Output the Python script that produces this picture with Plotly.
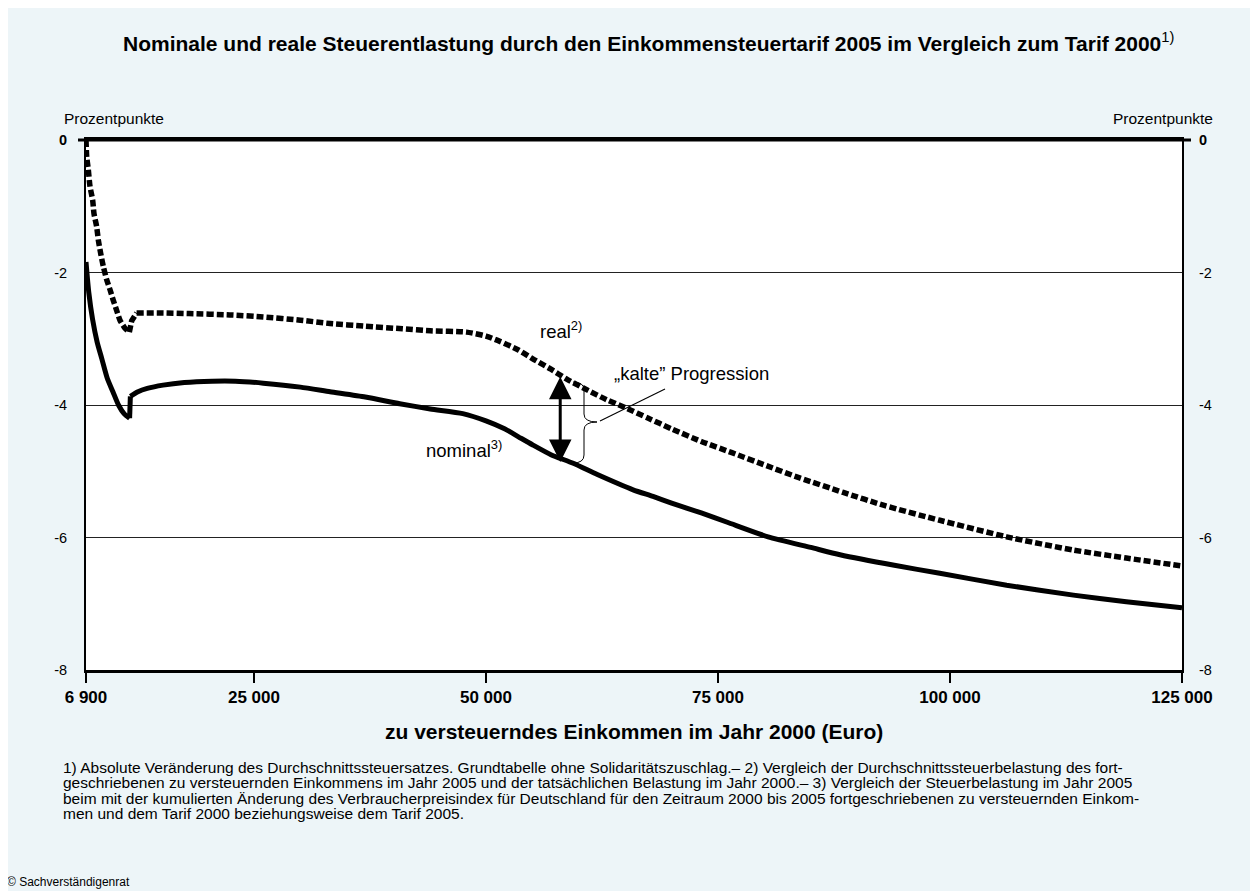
import plotly.graph_objects as go

# ---------------- data ----------------
nominal_x = [6900, 7200, 7600, 8100, 8600, 9200, 9800, 10400, 11000, 11600, 11680,
             12500, 13500, 15200, 17500, 20500, 23000, 26000, 30000, 33200, 37000,
             40700, 44000, 47500, 50000, 52000, 53500, 55000, 57000, 59400, 62000,
             65850, 68000, 70000, 73200, 76000, 80400, 85000, 88150, 94000, 98900,
             106100, 113300, 119000, 125000]
nominal_y = [-1.84, -2.3, -2.7, -3.05, -3.3, -3.6, -3.8, -4.0, -4.13, -4.2, -3.87,
             -3.8, -3.75, -3.7, -3.66, -3.64, -3.64, -3.67, -3.73, -3.8, -3.88,
             -3.98, -4.06, -4.13, -4.24, -4.36, -4.48, -4.6, -4.75, -4.88, -5.05,
             -5.28, -5.38, -5.48, -5.63, -5.77, -5.99, -6.15, -6.26, -6.42, -6.54,
             -6.72, -6.87, -6.97, -7.06]

real_x = [6900, 6975, 7150, 7330, 7620, 7760, 8050, 8230, 8480, 8770, 9130, 9490,
          9840, 10200, 10560, 11100, 11570, 11820, 12350, 15000, 18000, 22400,
          26000, 30000, 33200, 37000, 41000, 44000, 47900, 50000, 51500, 53500,
          55000, 57000, 58700, 61000, 63000, 65000, 67500, 70000, 73200, 76500,
          80300, 83800, 88500, 93000, 98900, 106100, 113300, 119000, 125000]
real_y = [0.0, -0.25, -0.45, -0.7, -0.91, -1.11, -1.31, -1.51, -1.71, -1.91, -2.11,
          -2.26, -2.42, -2.57, -2.72, -2.84, -2.9, -2.73, -2.61, -2.61, -2.62, -2.64,
          -2.67, -2.72, -2.77, -2.81, -2.85, -2.88, -2.9, -2.96, -3.04, -3.17,
          -3.3, -3.46, -3.61, -3.78, -3.92, -4.04, -4.2, -4.36, -4.55, -4.72,
          -4.92, -5.1, -5.32, -5.52, -5.74, -5.99, -6.19, -6.31, -6.43]

x_tickvals = [6900, 25000, 50000, 75000, 100000, 125000]
x_ticktext = ["6 900", "25 000", "50 000", "75 000", "100 000", "125 000"]
y_tickvals = [0, -2, -4, -6, -8]
y_ticktext = ["<b>0</b>", "-2", "-4", "-6", "-8"]

title_text = ("<b>Nominale und reale Steuerentlastung durch den Einkommensteuertarif 2005 "
              "im Vergleich zum Tarif 2000</b><sup>1)</sup>")
x_title = "<b>zu versteuerndes Einkommen im Jahr 2000 (Euro)</b>"
y_unit = "Prozentpunkte"
footnotes = [
    "1) Absolute Veränderung des Durchschnittssteuersatzes. Grundtabelle ohne Solidaritätszuschlag.– 2) Vergleich der Durchschnittssteuerbelastung des fort-",
    "geschriebenen zu versteuernden Einkommens im Jahr 2005 und der tatsächlichen Belastung im Jahr 2000.– 3) Vergleich der Steuerbelastung im Jahr 2005",
    "beim mit der kumulierten Änderung des Verbraucherpreisindex für Deutschland für den Zeitraum 2000 bis 2005 fortgeschriebenen zu versteuernden Einkom-",
    "men und dem Tarif 2000 beziehungsweise dem Tarif 2005.",
]
source = "© Sachverständigenrat"

# index where each curve jumps (tariff threshold)
NOM_JUMP = 9
REAL_JUMP = 16

# ---------------- layout helpers ----------------
OFF = 8                      # page body margin
W, H = 1258 - OFF, 891 - OFF
L, T = 86 - OFF, 140 - OFF
PW, PH = 1096, 530
R, B = W - L - PW, H - T - PH
FONT = "Liberation Sans, Arial, sans-serif"
BG = "#edf5f8"


def px(xs):  # screen pixel -> paper
    return (xs - OFF - L) / PW


def py(ys):
    return (T + PH + OFF - ys) / PH


solid = dict(color="black", width=5)
dotted = dict(color="black", width=5.5, dash="7px,3px")

fig = go.Figure()
# nominal
fig.add_trace(go.Scatter(x=nominal_x[:NOM_JUMP + 1], y=nominal_y[:NOM_JUMP + 1], mode="lines",
                         line=dict(**solid, shape="spline", smoothing=0.6), hoverinfo="skip"))
fig.add_trace(go.Scatter(x=nominal_x[NOM_JUMP:NOM_JUMP + 2], y=nominal_y[NOM_JUMP:NOM_JUMP + 2],
                         mode="lines", line=solid, hoverinfo="skip"))
fig.add_trace(go.Scatter(x=nominal_x[NOM_JUMP + 1:], y=nominal_y[NOM_JUMP + 1:], mode="lines",
                         line=dict(**solid, shape="spline", smoothing=0.6), hoverinfo="skip"))
# real
fig.add_trace(go.Scatter(x=real_x[:REAL_JUMP + 1], y=real_y[:REAL_JUMP + 1], mode="lines",
                         line=dict(**dotted, shape="spline", smoothing=0.6), hoverinfo="skip"))
fig.add_trace(go.Scatter(x=real_x[REAL_JUMP:REAL_JUMP + 3], y=real_y[REAL_JUMP:REAL_JUMP + 3],
                         mode="lines", line=dotted, hoverinfo="skip"))
fig.add_trace(go.Scatter(x=real_x[REAL_JUMP + 2:], y=real_y[REAL_JUMP + 2:], mode="lines",
                         line=dict(**dotted, shape="spline", smoothing=0.6), hoverinfo="skip"))
# invisible trace for right axis
fig.add_trace(go.Scatter(x=[6900], y=[0], yaxis="y2", mode="markers",
                         marker=dict(opacity=0), hoverinfo="skip"))

fig.update_layout(
    width=W, height=H,
    margin=dict(l=L, r=R, t=T, b=B, pad=0),
    paper_bgcolor=BG, plot_bgcolor="white",
    showlegend=False,
    font=dict(family=FONT, color="black", size=14),
    xaxis=dict(range=[6900, 125000], tickvals=x_tickvals, ticktext=x_ticktext,
               tickfont=dict(size=17, weight="bold"), ticks="outside", ticklen=10,
               tickwidth=1.5, tickcolor="black", showline=True, linewidth=3,
               linecolor="black", mirror=True, showgrid=False, zeroline=False),
    yaxis=dict(range=[-8, 0], tickvals=y_tickvals, ticktext=y_ticktext,
               tickfont=dict(size=14.5), ticks="", ticklabelstandoff=14,
               showline=True, linewidth=2, linecolor="black", showgrid=True,
               gridcolor="#222", gridwidth=1, zeroline=False),
    yaxis2=dict(range=[-8, 0], tickvals=y_tickvals, ticktext=y_ticktext,
                tickfont=dict(size=14.5), ticks="", ticklabelstandoff=12,
                overlaying="y", side="right", showline=True, linewidth=2,
                linecolor="black", showgrid=False, zeroline=False),
)

shapes = [
    # top frame extension
    dict(type="line", xref="paper", yref="paper", x0=px(78), x1=px(1191), y0=1, y1=1,
         line=dict(color="black", width=3)),
    # curly brace
    dict(type="path", xref="paper", yref="paper",
         path=(f"M {px(573)},{py(382)} Q {px(584)},{py(382)} {px(584)},{py(390)} "
               f"L {px(584)},{py(414)} Q {px(584)},{py(422)} {px(597)},{py(422)} "
               f"Q {px(584)},{py(422)} {px(584)},{py(430)} L {px(584)},{py(455)} "
               f"Q {px(584)},{py(463)} {px(573)},{py(463)}"),
         line=dict(color="black", width=1)),
    # pointer line
    dict(type="line", xref="paper", yref="paper", x0=px(600), y0=py(421), x1=px(665), y1=py(389),
         line=dict(color="black", width=1.2)),
]
fig.update_layout(shapes=shapes)

ann = [
    dict(text=title_text, x=px(648), y=py(42), xanchor="center", yanchor="middle",
         font=dict(size=21)),
    dict(text=y_unit, x=px(62), y=py(118), xanchor="left", yanchor="middle", font=dict(size=15.5)),
    dict(text=y_unit, x=px(1215), y=py(118), xanchor="right", yanchor="middle", font=dict(size=15.5)),
    dict(text="real<sup>2)</sup>", x=px(538), y=py(330), xanchor="left", yanchor="middle",
         font=dict(size=18.5)),
    dict(text="nominal<sup>3)</sup>", x=px(424), y=py(449), xanchor="left", yanchor="middle",
         font=dict(size=18.5)),
    dict(text="„kalte\u201d Progression", x=px(612), y=py(373), xanchor="left", yanchor="middle",
         font=dict(size=18.5)),
    dict(text=x_title, x=px(634), y=py(731), xanchor="center", yanchor="middle",
         font=dict(size=21)),
    dict(text=source, x=px(5), y=py(882), xanchor="left", yanchor="middle", font=dict(size=12)),
]
for i, line in enumerate(footnotes):
    ann.append(dict(text=line, x=px(61), y=py(767 + 15.5 * i), xanchor="left",
                    yanchor="middle", font=dict(size=15.5)))
for a in ann:
    a.update(xref="paper", yref="paper", showarrow=False)

# double-headed arrow
ann.append(dict(x=58000, y=-4.86, ax=58000, ay=-3.55, xref="x", yref="y", axref="x", ayref="y",
                text="", showarrow=True, arrowhead=2, arrowside="end+start", arrowsize=1.5,
                arrowwidth=3, arrowcolor="black", standoff=0, startstandoff=0))
fig.update_layout(annotations=ann)

fig.write_html("out.html")
